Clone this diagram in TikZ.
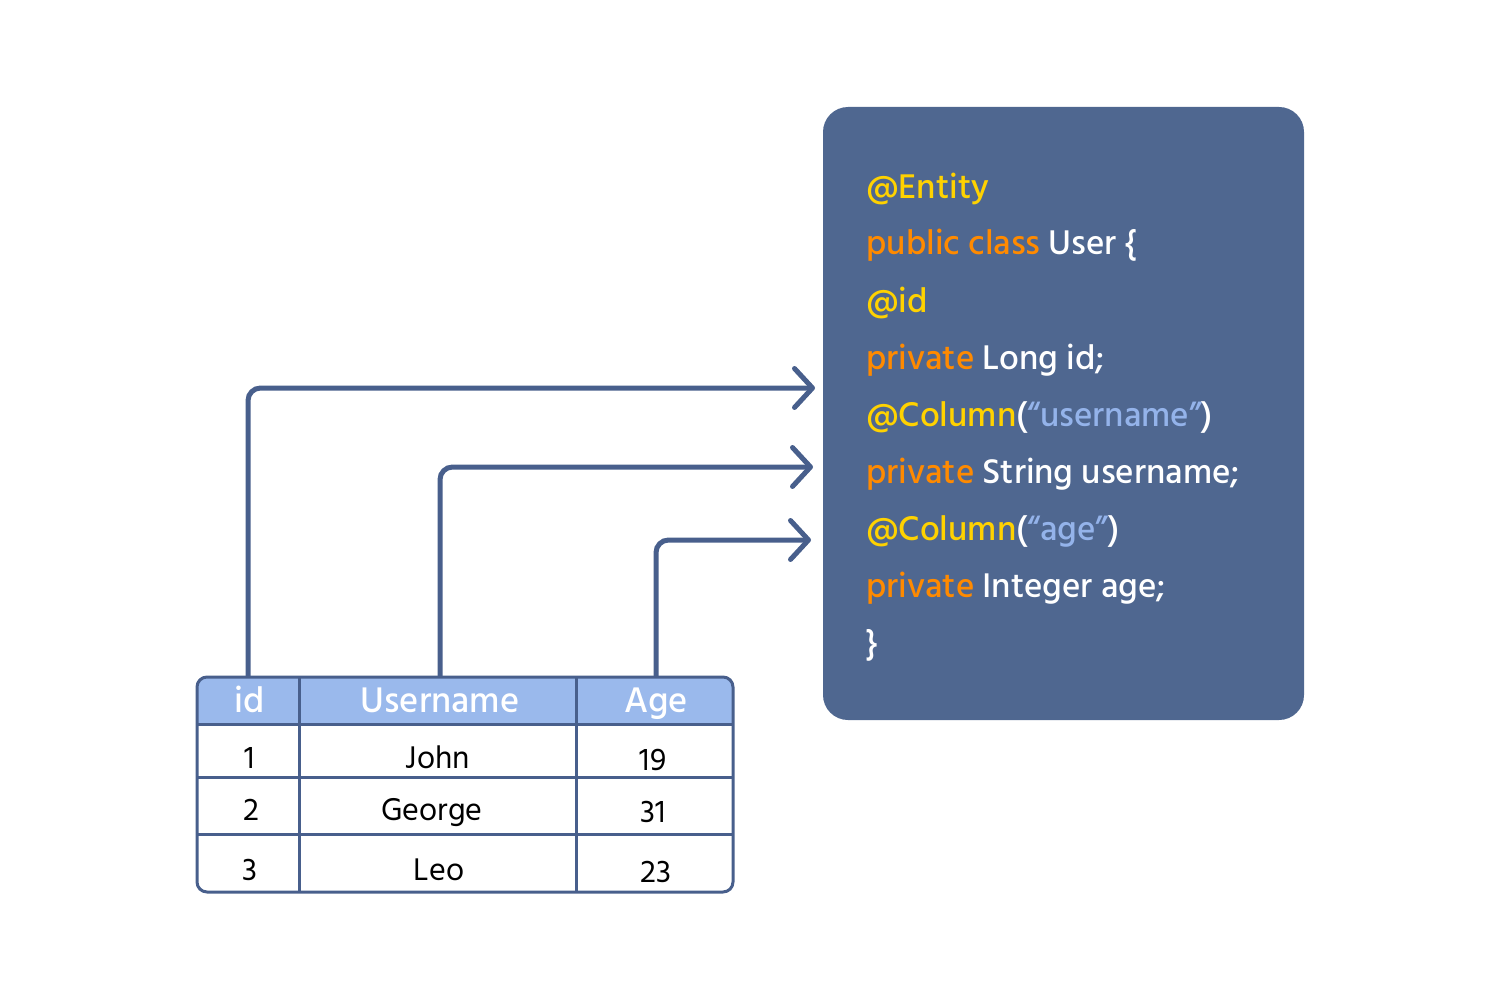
\documentclass[tikz,border=0pt]{standalone}
\usepackage{fontspec}
\setmainfont{Hind Siliguri}[UprightFont=* Medium]
\newfontfamily\bodyfont{Hind Siliguri}
\usetikzlibrary{arrows.meta}
\definecolor{boxfill}{HTML}{4F6790}
\definecolor{linecol}{HTML}{485F8C}
\definecolor{hdrfill}{HTML}{9AB9EC}
\definecolor{kwyellow}{HTML}{FFD200}
\definecolor{kworange}{HTML}{FF8A00}
\definecolor{strblue}{HTML}{94B3EA}
\tikzset{
  codeline/.style={anchor=base west, inner sep=0pt, text=white, font=\fontsize{20}{22}\selectfont},
  hdrcell/.style={inner sep=0pt, text=white, font=\fontsize{20.8}{22}\selectfont},
  bodytxt/.style={anchor=base, inner sep=0pt, text=black, font=\bodyfont\fontsize{18.3}{20}\selectfont},
  conn/.style={draw=linecol, line width=0.1cm, rounded corners=0.25cm,
    -{Straight Barb[length=0.36cm, width=0.78cm, round]}},
  grid/.style={draw=linecol, line width=0.06cm}
}
\begin{document}
\begin{tikzpicture}[x=0.02cm, y=-0.02cm]
\useasboundingbox (0,0) rectangle (1500,1000);
% code box
\node[fill=boxfill, rounded corners=0.5cm, minimum width=481*0.02cm, minimum height=613*0.02cm, inner sep=0pt] (code) at (1063.5,413.5) {};
\node[codeline] (c1) at (866,198) {\textcolor{kwyellow}{@Entity}};
\node[codeline] (c2) at (866,255) {\textcolor{kworange}{public class} User \{};
\node[codeline] (c3) at (866,312) {\textcolor{kwyellow}{@id}};
\node[codeline] (c4) at (866,369) {\textcolor{kworange}{private} Long id;};
\node[codeline] (c5) at (866,426) {\textcolor{kwyellow}{@Column}(\textcolor{strblue}{“username”})};
\node[codeline] (c6) at (866,483) {\textcolor{kworange}{private} String username;};
\node[codeline] (c7) at (866,540) {\textcolor{kwyellow}{@Column}(\textcolor{strblue}{“age”})};
\node[codeline] (c8) at (866,597) {\textcolor{kworange}{private} Integer age;};
\node[codeline] (c9) at (866,654) {\}};
% table
\begin{scope}
\clip[rounded corners=0.2cm] (197,677) rectangle (733,892);
\fill[hdrfill] (197,677) rectangle (733,724);
\end{scope}
\draw[grid] (197,724) -- (733,724);
\draw[grid] (197,777) -- (733,777);
\draw[grid] (197,834) -- (733,834);
\draw[grid] (299,677) -- (299,892);
\draw[grid] (576,677) -- (576,892);
\draw[grid, rounded corners=0.2cm] (197,677) rectangle (733,892);
\node[hdrcell, minimum width=102*0.02cm, minimum height=47*0.02cm] (hid) at (248,700.5) {};
\node[hdrcell, minimum width=277*0.02cm, minimum height=47*0.02cm] (huser) at (440,700.5) {};
\node[hdrcell, minimum width=157*0.02cm, minimum height=47*0.02cm] (hage) at (656,700.5) {};
\node[hdrcell, anchor=base] (tid) at (250,712) {id};
\node[hdrcell, anchor=base] (tuser) at (440,712) {Username};
\node[hdrcell, anchor=base] (tage) at (656,712) {Age};
\node[bodytxt] (r1a) at (250,768) {1};
\node[bodytxt] (r1b) at (438,768) {John};
\node[bodytxt] (r1c) at (653,770) {19};
\node[bodytxt] (r2a) at (251,820) {2};
\node[bodytxt] (r2b) at (432,820) {George};
\node[bodytxt] (r2c) at (653,822) {31};
\node[bodytxt] (r3a) at (250,880) {3};
\node[bodytxt] (r3b) at (439,880) {Leo};
\node[bodytxt] (r3c) at (656,882) {23};
% arrows
\coordinate (a1) at (815,388);
\coordinate (a2) at (813,467);
\coordinate (a3) at (811,540);
\draw[conn] (hid.north) |- (a1);
\draw[conn] (huser.north) |- (a2);
\draw[conn] (hage.north) |- (a3);
\end{tikzpicture}
\end{document}
